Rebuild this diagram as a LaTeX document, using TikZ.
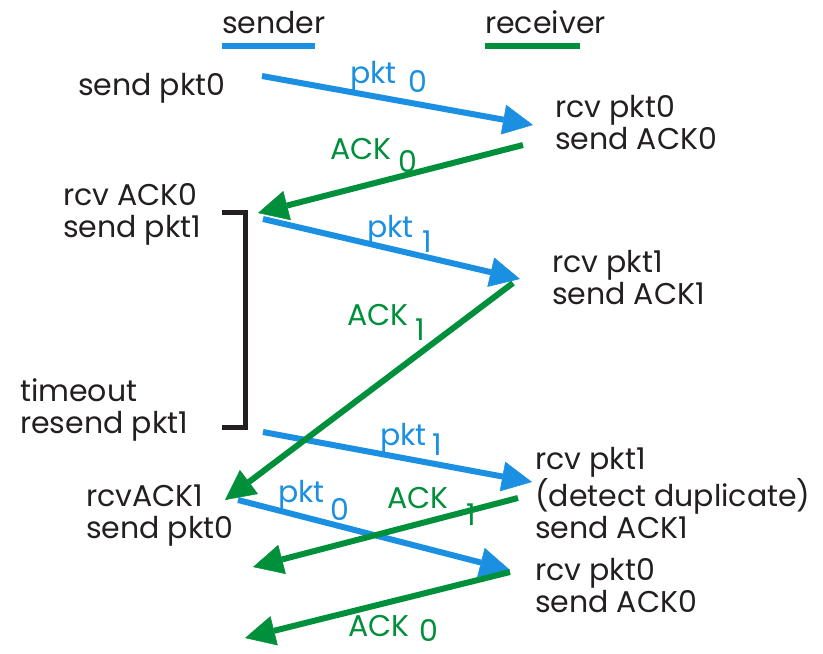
\documentclass[tikz,border=0pt]{standalone}
\usepackage{fontspec}
\setmainfont{Poppins}
\usetikzlibrary{arrows.meta}
\definecolor{pblue}{RGB}{27,143,226}
\definecolor{pgreen}{RGB}{0,143,58}
\definecolor{ink}{RGB}{35,31,32}
\newcommand\lblsub[4]{#1\hspace{#2pt}\raisebox{-#3pt}{#4}}
\begin{document}
\begin{tikzpicture}[x=1pt,y=-1pt,
  txt/.style={font=\fontsize{30}{32}\selectfont, text=ink, inner sep=0, align=left, anchor=north west},
  hdr/.style={font=\fontsize{30}{32}\selectfont, text=ink, inner sep=0, anchor=base west},
  lbl/.style={font=\fontsize{30}{32}\selectfont, inner sep=0, anchor=base west},
  tip/.style={-{Triangle[length=30pt,width=30pt,line width=0.5pt]}},
  pktarrow/.style={draw=pblue, line width=6pt, tip},
  ackarrow/.style={draw=pgreen, line width=6pt, tip},
  uline/.style={line width=6pt},
  bracket/.style={draw=ink, line width=5pt}]
\useasboundingbox (0,0) rectangle (823,654);

% headers
\node[hdr] (hs) at (222,33) {sender};
\node[hdr] (hr) at (485,33) {receiver};
\draw[uline, draw=pblue] (222,46) -- (315,46);
\draw[uline, draw=pgreen] (485,46) -- (580,46);

% text nodes
\node[txt] (sp0) at (78,73) {send pkt0};
\node[txt] (r0) at (555,95) {rcv pkt0\\send ACK0};
\node[txt] (ra0) at (63,183) {rcv ACK0\\send pkt1};
\node[txt] (r1) at (552,250) {rcv pkt1\\send ACK1};
\node[txt] (to) at (20,378) {timeout\\resend pkt1};
\node[txt] (r1d) at (535,447) {rcv pkt1\\(detect duplicate)\\send ACK1};
\node[txt] (ra1) at (86,485) {rcvACK1\\send pkt0};
\node[txt] (r0b) at (535,558) {rcv pkt0\\send ACK0};

% bracket
\draw[bracket] (222,212) -- (245,212) -- (245,427) -- (222,427);

% arrow end points
\coordinate (a1s) at (262,76);  \coordinate (a1e) at (533,125);
\coordinate (a2s) at (523,145); \coordinate (a2e) at (258,213);
\coordinate (a3s) at (263,219); \coordinate (a3e) at (520,279);
\coordinate (a4s) at (513,283); \coordinate (a4e) at (225,500);
\coordinate (a5s) at (263,432); \coordinate (a5e) at (532,482);
\coordinate (a6s) at (238,500); \coordinate (a6e) at (510,570);
\coordinate (a7s) at (518,498); \coordinate (a7e) at (253,567);
\coordinate (a8s) at (510,572); \coordinate (a8e) at (245,638);

% packets (blue)
\draw[pktarrow] (a1s) -- (a1e);
\draw[pktarrow] (a3s) -- (a3e);
\draw[pktarrow] (a5s) -- (a5e);
\draw[pktarrow] (a6s) -- (a6e);
% acks (green)
\draw[ackarrow] (a2s) -- (a2e);
\draw[ackarrow] (a4s) -- (a4e);
\draw[ackarrow] (a7s) -- (a7e);
\draw[ackarrow] (a8s) -- (a8e);

% labels
\node[lbl, text=pblue] (l1) at (350,83) {\lblsub{pkt}{12}{9}{0}};
\node[lbl, text=pgreen] (l2) at (330,159) {\lblsub{ACK}{7}{13}{0}};
\node[lbl, text=pblue] (l3) at (367,237) {\lblsub{pkt}{9}{15}{1}};
\node[lbl, text=pgreen] (l4) at (347,325) {\lblsub{ACK}{7}{15}{1}};
\node[lbl, text=pblue] (l5) at (380,445) {\lblsub{pkt}{6}{10}{1}};
\node[lbl, text=pblue] (l6) at (278,502) {\lblsub{pkt}{6}{18}{0}};
\node[lbl, text=pgreen] (l7) at (387,508) {\lblsub{ACK}{18}{17}{1}};
\node[lbl, text=pgreen] (l8) at (348,636) {\lblsub{ACK}{10}{5}{0}};
\end{tikzpicture}
\end{document}
